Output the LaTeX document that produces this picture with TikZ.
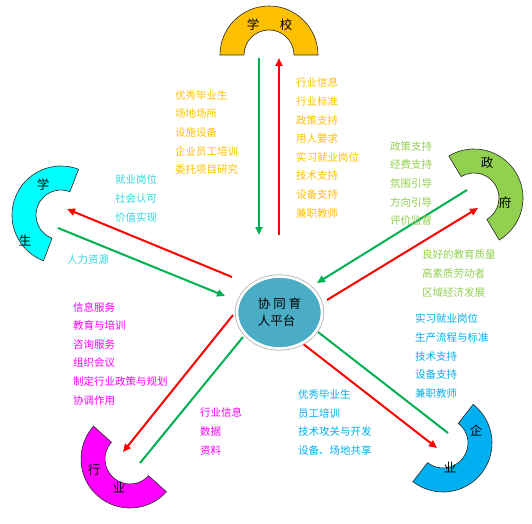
\documentclass[tikz,border=0pt]{standalone}
\usepackage{fontspec}
\setmainfont{Noto Sans CJK SC}
\usetikzlibrary{arrows.meta,shapes.geometric,calc}
\definecolor{schoolc}{HTML}{FFC000}
\definecolor{studc}{HTML}{00FFFF}
\definecolor{studt}{HTML}{30D8E0}
\definecolor{govc}{HTML}{92D050}
\definecolor{entc}{HTML}{00B0F0}
\definecolor{indc}{HTML}{FF00FF}
\definecolor{platc}{HTML}{4BACC6}
\definecolor{arrred}{HTML}{FF0000}
\definecolor{arrgreen}{HTML}{00B050}
\newcommand\blkarc[4]{%
  \filldraw[arcline,fill=#4] (#1,#2) ++(#3+90:49) arc[start angle=#3+90, delta angle=180, radius=49pt]
    -- ++(#3+90:24) arc[start angle=#3+270, delta angle=-180, radius=25pt] -- cycle;}
\begin{document}
\begin{tikzpicture}[x=1pt,y=1pt,
  arcline/.style={draw=black!85,line width=0.6pt},
  arclabel/.style={font=\fontsize{12.5}{14}\selectfont,inner sep=0},
  txt/.style={font=\fontsize{10.5}{18.6}\selectfont,align=left,anchor=west,inner sep=0},
  redarr/.style={draw=arrred,line width=2pt,-{Triangle[length=8pt,width=7pt]}},
  greenarr/.style={draw=arrgreen,line width=2pt,-{Triangle[length=8pt,width=7pt]}},
  greenline/.style={draw=arrgreen,line width=2pt}]
\useasboundingbox (0,0) rectangle (532,523);
\fill[white] (0,0) rectangle (532,523);

% block arcs
\blkarc{269}{468}{-90}{schoolc}
\blkarc{61}{308}{-21}{studc}
\blkarc{474}{325}{211}{govc}
\blkarc{443}{80}{142}{entc}
\blkarc{130}{64}{48}{indc}

\node[arclabel] (sch1) at (253,498) {学};
\node[arclabel] (sch2) at (286,498) {校};
\node[arclabel] (stu1) at (43,338) {学};
\node[arclabel] (stu2) at (25,282) {生};
\node[arclabel] (gov1) at (487,360) {政};
\node[arclabel] (gov2) at (505,320) {府};
\node[arclabel] (ent1) at (476,92) {企};
\node[arclabel] (ent2) at (450,56) {业};
\node[arclabel] (ind1) at (94,53) {行};
\node[arclabel] (ind2) at (119,36) {业};

% connector end points
\coordinate (sgA) at (259,465); \coordinate (sgB) at (259,288);
\coordinate (srA) at (279,288); \coordinate (srB) at (279,465);
\coordinate (trA) at (232,246); \coordinate (trB) at (67,314);
\coordinate (tgA) at (58,295);  \coordinate (tgB) at (225,227);
\coordinate (ggA) at (467,333); \coordinate (ggB) at (317,240);
\coordinate (grA) at (327,223); \coordinate (grB) at (478,315);
\coordinate (egA) at (318,191); \coordinate (egB) at (448,90);
\coordinate (erA) at (302,180); \coordinate (erB) at (437,75);
\coordinate (irA) at (233,208); \coordinate (irB) at (123,71);
\coordinate (igA) at (140,60);  \coordinate (igB) at (243,186);

\draw[greenarr] (sgA) -- (sgB);
\draw[redarr] (srA) -- (srB);
\draw[redarr] (trA) -- (trB);
\draw[greenarr] (tgA) -- (tgB);
\draw[greenarr] (ggA) -- (ggB);
\draw[redarr] (grA) -- (grB);
\draw[greenline] (egA) -- (egB);
\draw[redarr] (erA) -- (erB);
\draw[redarr] (irA) -- (irB);
\draw[greenline] (igA) -- (igB);

% platform
\node[ellipse,minimum width=85pt,minimum height=72pt,fill=platc,
  preaction={draw=black!30,line width=4.2pt},draw=white,line width=2.6pt,
  align=left,font=\fontsize{12.5}{17}\selectfont,inner sep=0] (plat) at (279.5,210.5)
  {协 同 育\\人平台};

% texts
\node[txt,text=schoolc] (tsl) at (175,390.5) {优秀毕业生\\场地场所\\设施设备\\企业员工培训\\委托项目研究};
\node[txt,text=schoolc] (tsr) at (296,375) {行业信息\\行业标准\\政策支持\\用人要求\\实习就业岗位\\技术支持\\设备支持\\兼职教师};
\node[txt,text=studt] (tst) at (115,324.5) {就业岗位\\社会认可\\价值实现};
\node[txt,text=studt] (tst2) at (67,263) {人力资源};
\node[txt,text=govc] (tg1) at (390,339.5) {政策支持\\经费支持\\氛围引导\\方向引导\\评价监督};
\node[txt,text=govc] (tg2) at (422,249.5) {良好的教育质量\\高素质劳动者\\区域经济发展};
\node[txt,text=entc] (te1) at (415,167) {实习就业岗位\\生产流程与标准\\技术支持\\设备支持\\兼职教师};
\node[txt,text=entc] (te2) at (298,100.5) {优秀毕业生\\员工培训\\技术攻关与开发\\设备、场地共享};
\node[txt,text=indc] (ti1) at (73,169.5) {信息服务\\教育与培训\\咨询服务\\组织会议\\制定行业政策与规划\\协调作用};
\node[txt,text=indc] (ti2) at (200,91.5) {行业信息\\数据\\资料};
\end{tikzpicture}
\end{document}
